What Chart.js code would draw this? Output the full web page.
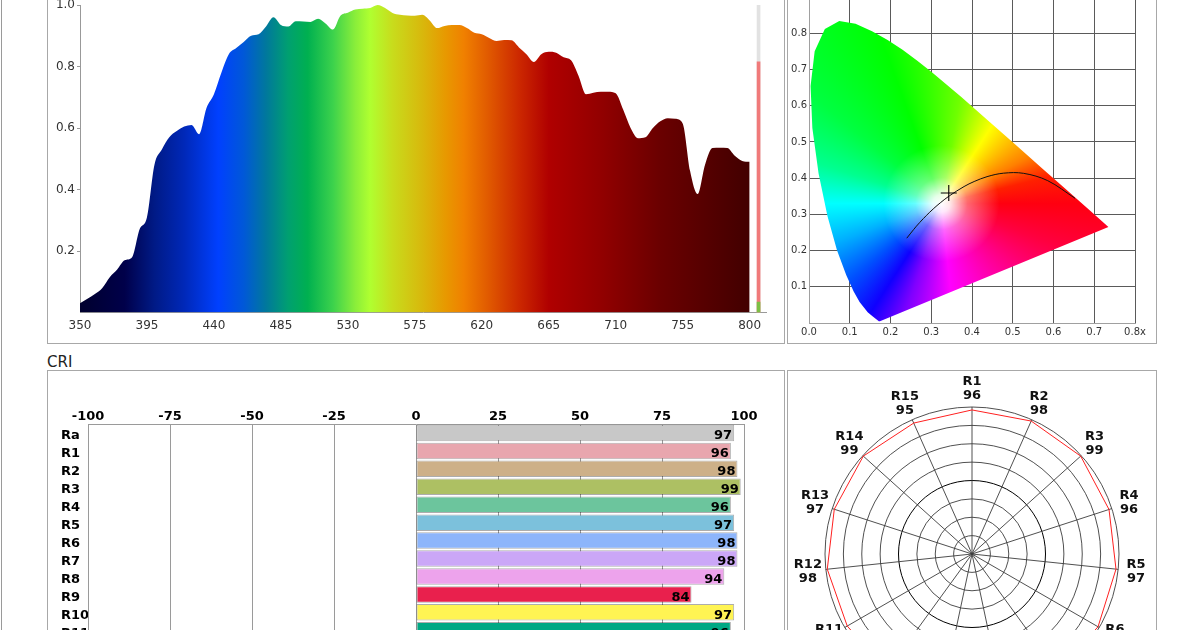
<!DOCTYPE html>
<html>
<head>
<meta charset="utf-8">
<script src="https://cdn.jsdelivr.net/npm/chart.js@4.4.1/dist/chart.umd.min.js"></script>
<style>
  html, body { margin: 0; padding: 0; background: #fff; }
  body { width: 1200px; height: 630px; overflow: hidden; position: relative; font-family: "DejaVu Sans", Verdana, sans-serif; }
  .pageline { position: absolute; left: 1px; top: 0; width: 1px; height: 630px; background: #9a9a9a; }
  .panel { position: absolute; border: 1px solid #a8a8a8; background: #fff; }
  .panel canvas { position: absolute; left: 0; top: 0; }
  #cri-title { position: absolute; left: 47px; top: 353px; font-size: 15px; line-height: 18px; color: #222; }
</style>
</head>
<body>
<div class="pageline"></div>
<div class="panel" style="left:47px;top:-13px;width:736px;height:355px"><canvas id="spectrum" width="736" height="355"></canvas></div>
<div class="panel" style="left:787px;top:-13px;width:368px;height:355px"><canvas id="cie" width="368" height="355"></canvas></div>
<div id="cri-title">CRI</div>
<div class="panel" style="left:47px;top:370px;width:736px;height:360px"><canvas id="cri" width="736" height="360"></canvas></div>
<div class="panel" style="left:787px;top:370px;width:368px;height:368px"><canvas id="polar" width="368" height="368"></canvas></div>

<script>
const FONT = '"DejaVu Sans", Verdana, sans-serif';

// spectrum (relative intensity every 5 nm)
const wavelengths = [
  350, 355, 360, 365, 370, 375, 380, 385, 390, 395,
  400, 405, 410, 415, 420, 425, 430, 435, 440, 445,
  450, 455, 460, 465, 470, 475, 480, 485, 490, 495,
  500, 505, 510, 515, 520, 525, 530, 535, 540, 545,
  550, 555, 560, 565, 570, 575, 580, 585, 590, 595,
  600, 605, 610, 615, 620, 625, 630, 635, 640, 645,
  650, 655, 660, 665, 670, 675, 680, 685, 690, 695,
  700, 705, 710, 715, 720, 725, 730, 735, 740, 745,
  750, 755, 760, 765, 770, 775, 780, 785, 790, 795,
  800
];
const intensity = [
  0.03, 0.045, 0.06, 0.08, 0.115, 0.14, 0.17, 0.18, 0.27, 0.31,
  0.48, 0.53, 0.57, 0.59, 0.605, 0.61, 0.58, 0.665, 0.71, 0.78,
  0.84, 0.86, 0.88, 0.90, 0.905, 0.93, 0.96, 0.935, 0.93, 0.947,
  0.946, 0.945, 0.955, 0.94, 0.92, 0.965, 0.975, 0.985, 0.988, 0.99,
  1.0, 0.99, 0.974, 0.968, 0.966, 0.965, 0.968, 0.95, 0.925, 0.932,
  0.935, 0.935, 0.925, 0.91, 0.905, 0.893, 0.883, 0.886, 0.885, 0.862,
  0.84, 0.815, 0.84, 0.848, 0.845, 0.83, 0.82, 0.77, 0.71, 0.715,
  0.718, 0.718, 0.713, 0.66, 0.60, 0.567, 0.57, 0.60, 0.622, 0.632,
  0.63, 0.615, 0.46, 0.385, 0.48, 0.535, 0.536, 0.535, 0.51, 0.493,
  0.49
];
const spectrumTicks = [350, 395, 440, 485, 530, 575, 620, 665, 710, 755, 800];
const spectrumYTicks = [0.2, 0.4, 0.6, 0.8, 1.0];
const spectrumColors = [
  [350, '#00002e'], [380, '#00004a'], [400, '#001a86'], [420, '#0028b8'], [443, '#0040ff'],
  [460, '#0058d8'], [475, '#00789c'], [490, '#00a070'], [503, '#00b050'], [520, '#3cd24c'],
  [535, '#8aee3a'], [545, '#b0ff30'], [560, '#c8dc1c'], [580, '#d8b80c'], [596, '#e89800'],
  [608, '#f08000'], [625, '#e05800'], [645, '#cc2800'], [665, '#b00000'], [700, '#920000'],
  [740, '#6a0000'], [770, '#560000'], [800, '#420000']
];
// level indicator right of the spectrum
const levelX = 806;
const levelValues = [1.0, 0.815, 0.034];
const levelColors = ['#e2e2e2', '#f07a7a', '#7cbf45'];

// CIE 1931 chromaticity
const locusX = [0.1741, 0.1733, 0.1714, 0.1644, 0.1566, 0.1440, 0.1241, 0.1096, 0.0913, 0.0687, 0.0454, 0.0235, 0.0082, 0.0039, 0.0139, 0.0389, 0.0743, 0.1142, 0.1547, 0.1929, 0.2296, 0.2658, 0.3016, 0.3373, 0.3731, 0.4441, 0.5125, 0.5752, 0.6270, 0.6658, 0.6915, 0.7190, 0.7300, 0.7347, 0.1741];
const locusY = [0.0050, 0.0048, 0.0051, 0.0109, 0.0177, 0.0297, 0.0578, 0.0868, 0.1327, 0.2007, 0.2950, 0.4127, 0.5384, 0.6548, 0.7502, 0.8120, 0.8338, 0.8262, 0.8059, 0.7816, 0.7543, 0.7243, 0.6923, 0.6589, 0.6245, 0.5547, 0.4866, 0.4242, 0.3725, 0.3340, 0.3083, 0.2809, 0.2700, 0.2653, 0.0050];
const planckX = [0.6528, 0.5857, 0.5267, 0.4770, 0.4369, 0.4053, 0.3805, 0.3451, 0.3221, 0.3064, 0.2952, 0.2807, 0.2637, 0.2565, 0.2399];
const planckY = [0.3444, 0.3931, 0.4133, 0.4137, 0.4041, 0.3907, 0.3768, 0.3516, 0.3318, 0.3166, 0.3048, 0.2884, 0.2675, 0.2577, 0.2342];
const samplePoint = [0.343, 0.359];
const cieXTicks = [0, 0.1, 0.2, 0.3, 0.4, 0.5, 0.6, 0.7, 0.8];
const cieYTicks = [0, 0.1, 0.2, 0.3, 0.4, 0.5, 0.6, 0.7, 0.8, 0.9];
const whitePoint = [0.325, 0.33];
const hueStops = [
  [0, '#ff0010'], [20, '#ff0040'], [46, '#ff0090'], [84, '#ff00ff'], [108, '#8000ff'],
  [123, '#1000ff'], [140, '#0050ff'], [160, '#00b0ff'], [180, '#00ffff'], [198, '#00ff90'],
  [220, '#00ff40'], [250, '#00ff00'], [280, '#70ff00'], [303, '#ffff00'], [332, '#ff8000'],
  [346, '#ff2000'], [360, '#ff0010']
];

// CRI
const criLabels = ['Ra', 'R1', 'R2', 'R3', 'R4', 'R5', 'R6', 'R7', 'R8', 'R9', 'R10', 'R11', 'R12', 'R13', 'R14', 'R15'];
const criValues = [97, 96, 98, 99, 96, 97, 98, 98, 94, 84, 97, 96, 98, 97, 99, 95];
const criColors = ['#c8c8c8', '#e8a6ae', '#cdb088', '#adc063', '#6cc59d', '#7cc1dc', '#8db5fb', '#cba7f7',
                   '#eda3ec', '#e9204d', '#fff453', '#00a884', '#1f5fa8', '#f1c8a3', '#4f7a3a', '#d9a47e'];
const polarLabels = criLabels.slice(1);
const polarValues = criValues.slice(1);

Chart.defaults.font.family = FONT;
Chart.defaults.animation = false;
Chart.defaults.responsive = false;
Chart.defaults.plugins.legend.display = false;
Chart.defaults.plugins.tooltip.enabled = false;

function spectrumFill(c) {
  const chart = c.chart;
  const xs = chart.scales.x;
  if (!xs || !chart.chartArea) return '#000';
  const x0 = xs.getPixelForValue(350), x1 = xs.getPixelForValue(800);
  const g = chart.ctx.createLinearGradient(x0, 0, x1, 0);
  spectrumColors.forEach(([w, col]) => g.addColorStop((w - 350) / 450, col));
  return g;
}

function gamutFill(c) {
  const chart = c.chart;
  const { x, y } = chart.scales;
  if (!x || !y || !chart.chartArea) return '#fff';
  const cx = x.getPixelForValue(whitePoint[0]);
  const cy = y.getPixelForValue(whitePoint[1]);
  const off = document.createElement('canvas');
  off.width = chart.width;
  off.height = chart.height;
  const g = off.getContext('2d');
  const cg = g.createConicGradient(0, cx, cy);
  hueStops.forEach(([a, col]) => cg.addColorStop(a / 360, col));
  g.fillStyle = cg;
  g.fillRect(0, 0, off.width, off.height);
  const rg = g.createRadialGradient(cx, cy, 0, cx, cy, 58);
  rg.addColorStop(0, 'rgba(255,255,255,1)');
  rg.addColorStop(0.15, 'rgba(255,255,255,0.9)');
  rg.addColorStop(0.45, 'rgba(255,255,255,0.4)');
  rg.addColorStop(1, 'rgba(255,255,255,0)');
  g.fillStyle = rg;
  g.fillRect(0, 0, off.width, off.height);
  return chart.ctx.createPattern(off, 'no-repeat');
}

// spectrum chart
new Chart(document.getElementById('spectrum'), {
  type: 'line',
  data: {
    datasets: [
      ...levelValues.slice().reverse().map((v, i) => ({
        type: 'bar',
        data: [{ x: levelX, y: [0, v] }],
        backgroundColor: levelColors.slice().reverse()[i],
        barThickness: 3,
        grouped: false
      })),
      {
        type: 'line',
        data: wavelengths.map((w, i) => ({ x: w, y: intensity[i] })),
        borderWidth: 0,
        pointRadius: 0,
        cubicInterpolationMode: 'monotone',
        fill: 'origin',
        backgroundColor: spectrumFill
      }
    ]
  },
  options: {
    layout: { padding: { top: 17, right: 18, left: 0, bottom: 0 } },
    scales: {
      x: {
        type: 'linear', min: 350, max: 811, offset: false,
        afterBuildTicks: s => { s.ticks = spectrumTicks.map(v => ({ value: v })); },
        afterFit: s => { s.height = 30.5; },
        ticks: { autoSkip: false, maxRotation: 0, color: '#333', font: { size: 12 }, padding: 6 },
        grid: { display: false, drawTicks: false },
        border: { color: '#999' }
      },
      y: {
        min: 0, max: 1,
        afterBuildTicks: s => { s.ticks = spectrumYTicks.map(v => ({ value: v })); },
        afterFit: s => { s.width = 32; },
        ticks: { color: '#333', font: { size: 12 }, padding: 2, callback: v => v.toFixed(1) },
        grid: { drawOnChartArea: false, drawTicks: true, tickLength: 3, color: '#999' },
        border: { color: '#999' }
      }
    }
  }
});

// chromaticity chart
new Chart(document.getElementById('cie'), {
  type: 'line',
  data: {
    datasets: [
      {
        data: [{ x: samplePoint[0], y: samplePoint[1] }],
        showLine: false, pointStyle: 'cross', pointRadius: 8,
        pointBorderColor: '#000', pointBorderWidth: 1.1
      },
      {
        data: planckX.map((v, i) => ({ x: v, y: planckY[i] })),
        borderColor: '#111', borderWidth: 1, pointRadius: 0, tension: 0.35, fill: false
      },
      {
        data: locusX.map((v, i) => ({ x: v, y: locusY[i] })),
        borderWidth: 0, pointRadius: 0, tension: 0, fill: 'shape',
        backgroundColor: gamutFill
      }
    ]
  },
  options: {
    layout: { padding: { top: 6, right: 21, left: 0, bottom: 0 } },
    scales: {
      x: {
        type: 'linear', min: 0, max: 0.8, z: 1,
        afterBuildTicks: s => { s.ticks = cieXTicks.map(v => ({ value: v })); },
        afterFit: s => { s.height = 20; },
        ticks: { autoSkip: false, maxRotation: 0, color: '#333', font: { size: 10 }, padding: 3,
                 callback: v => v === 0.8 ? '0.8x' : v.toFixed(1) },
        grid: { color: c => (c.tick && c.tick.value === 0) ? 'rgba(0,0,0,0)' : '#5a5a5a', drawTicks: false },
        border: { color: '#a0a0a0' }
      },
      y: {
        type: 'linear', min: 0, max: 0.9, z: 1,
        afterBuildTicks: s => { s.ticks = cieYTicks.map(v => ({ value: v })); },
        afterFit: s => { s.width = 21; },
        ticks: { autoSkip: false, color: '#333', font: { size: 10 }, padding: 2,
                 callback: v => v === 0 ? '' : v.toFixed(1) },
        grid: { color: c => (c.tick && c.tick.value === 0) ? 'rgba(0,0,0,0)' : '#5a5a5a', drawTicks: false },
        border: { color: '#a0a0a0' }
      }
    }
  }
});

// value labels at the end of the CRI bars
const barValueLabels = {
  id: 'barValueLabels',
  afterDatasetsDraw(chart) {
    const ctx = chart.ctx;
    const meta = chart.getDatasetMeta(0);
    ctx.save();
    ctx.font = 'bold 13px ' + FONT;
    ctx.fillStyle = '#000';
    ctx.textAlign = 'right';
    ctx.textBaseline = 'middle';
    meta.data.forEach((bar, i) => {
      ctx.fillText(String(criValues[i]), bar.x - 2, bar.y + 3);
    });
    ctx.restore();
  }
};

new Chart(document.getElementById('cri'), {
  type: 'bar',
  data: {
    labels: criLabels,
    datasets: [{
      data: criValues,
      backgroundColor: criColors,
      borderColor: 'rgba(0,0,0,0.32)',
      borderWidth: 1,
      borderSkipped: false,
      barPercentage: 0.92,
      categoryPercentage: 1
    }]
  },
  options: {
    indexAxis: 'y',
    layout: { padding: { left: 13, right: 40, top: 0, bottom: 20 } },
    scales: {
      x: {
        position: 'top', min: -100, max: 100,
        afterFit: s => { s.height = 53; },
        ticks: { stepSize: 25, color: '#000', font: { size: 13, weight: 'bold' }, padding: 0, maxRotation: 0 },
        grid: { color: '#9a9a9a', drawTicks: false },
        border: { color: '#9a9a9a' }
      },
      y: {
        afterFit: s => { s.width = 27; },
        ticks: { color: '#000', font: { size: 13, weight: 'bold' }, crossAlign: 'far', padding: 0,
                 autoSkip: false, labelOffset: 3 },
        grid: { display: false, drawTicks: false },
        border: { color: '#9a9a9a' }
      }
    }
  },
  plugins: [barValueLabels]
});

// labels of the polar chart: name and value, centred on a circle outside the 100 ring
const polarPointLabels = {
  id: 'polarPointLabels',
  afterDraw(chart) {
    const r = chart.scales.r;
    const ctx = chart.ctx;
    const dist = r.getDistanceFromCenterForValue(100) + 18;
    ctx.save();
    ctx.font = 'bold 13px ' + FONT;
    ctx.fillStyle = '#111';
    ctx.textAlign = 'center';
    ctx.textBaseline = 'middle';
    polarLabels.forEach((lab, i) => {
      const p = r.getPointPosition(i, dist);
      ctx.fillText(lab, p.x, p.y - 7);
      ctx.fillText(String(polarValues[i]), p.x, p.y + 7);
    });
    ctx.restore();
  }
};

new Chart(document.getElementById('polar'), {
  type: 'radar',
  data: {
    labels: polarLabels,
    datasets: [{
      data: polarValues,
      borderColor: '#ff2020',
      borderWidth: 1,
      pointRadius: 0,
      fill: false
    }]
  },
  options: {
    layout: { padding: { top: 36, bottom: 38, left: 37, right: 37 } },
    scales: {
      r: {
        min: -100, max: 100,
        ticks: { stepSize: 25, display: false },
        grid: {
          circular: true,
          color: c => (c.tick && c.tick.value === 0) ? '#000' : '#3c3c3c',
          lineWidth: c => (c.tick && c.tick.value === 0) ? 1 : 0.9
        },
        angleLines: { color: '#3c3c3c', lineWidth: 0.9 },
        pointLabels: { display: false }
      }
    }
  },
  plugins: [polarPointLabels]
});
</script>
</body>
</html>
